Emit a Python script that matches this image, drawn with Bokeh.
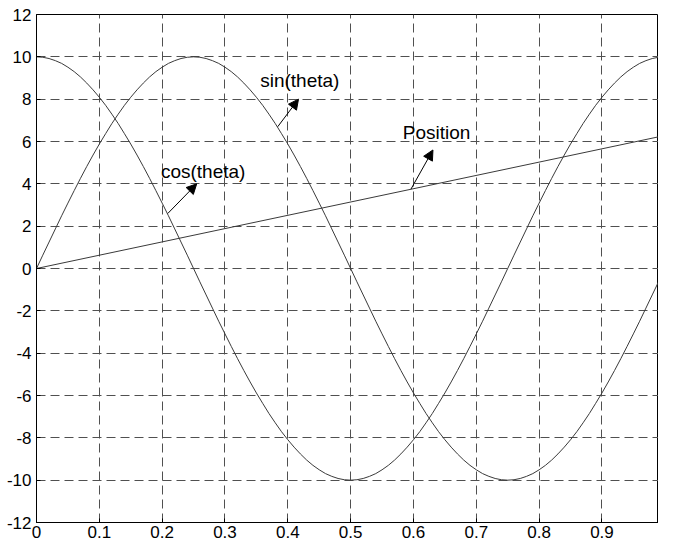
import numpy as np
from bokeh.plotting import figure
from bokeh.models import Arrow, NormalHead, FixedTicker, Range1d
from bokeh.core.properties import value
from bokeh.embed import file_html
from bokeh.resources import INLINE

# ---- data ----
t = np.round(np.arange(100) * 0.01, 2)

sin_vals = [0.00, 0.63, 1.25, 1.87, 2.49, 3.09, 3.68, 4.26, 4.82, 5.36,
            5.88, 6.37, 6.85, 7.29, 7.71, 8.09, 8.44, 8.76, 9.05, 9.30,
            9.51, 9.69, 9.82, 9.92, 9.98, 10.00, 9.98, 9.92, 9.82, 9.69,
            9.51, 9.30, 9.05, 8.76, 8.44, 8.09, 7.71, 7.29, 6.85, 6.37,
            5.88, 5.36, 4.82, 4.26, 3.68, 3.09, 2.49, 1.87, 1.25, 0.63,
            0.00, -0.63, -1.25, -1.87, -2.49, -3.09, -3.68, -4.26, -4.82, -5.36,
            -5.88, -6.37, -6.85, -7.29, -7.71, -8.09, -8.44, -8.76, -9.05, -9.30,
            -9.51, -9.69, -9.82, -9.92, -9.98, -10.00, -9.98, -9.92, -9.82, -9.69,
            -9.51, -9.30, -9.05, -8.76, -8.44, -8.09, -7.71, -7.29, -6.85, -6.37,
            -5.88, -5.36, -4.82, -4.26, -3.68, -3.09, -2.49, -1.87, -1.25, -0.63]

cos_vals = [10.00, 9.98, 9.92, 9.82, 9.69, 9.51, 9.30, 9.05, 8.76, 8.44,
            8.09, 7.71, 7.29, 6.85, 6.37, 5.88, 5.36, 4.82, 4.26, 3.68,
            3.09, 2.49, 1.87, 1.25, 0.63, 0.00, -0.63, -1.25, -1.87, -2.49,
            -3.09, -3.68, -4.26, -4.82, -5.36, -5.88, -6.37, -6.85, -7.29, -7.71,
            -8.09, -8.44, -8.76, -9.05, -9.30, -9.51, -9.69, -9.82, -9.92, -9.98,
            -10.00, -9.98, -9.92, -9.82, -9.69, -9.51, -9.30, -9.05, -8.76, -8.44,
            -8.09, -7.71, -7.29, -6.85, -6.37, -5.88, -5.36, -4.82, -4.26, -3.68,
            -3.09, -2.49, -1.87, -1.25, -0.63, 0.00, 0.63, 1.25, 1.87, 2.49,
            3.09, 3.68, 4.26, 4.82, 5.36, 5.88, 6.37, 6.85, 7.29, 7.71,
            8.09, 8.44, 8.76, 9.05, 9.30, 9.51, 9.69, 9.82, 9.92, 9.98]

pos_x = [0.0, 0.99]
pos_y = [0.0, 6.22]

xticks = [0, 0.1, 0.2, 0.3, 0.4, 0.5, 0.6, 0.7, 0.8, 0.9]
xtick_labels = ["0", "0.1", "0.2", "0.3", "0.4", "0.5", "0.6", "0.7", "0.8", "0.9"]
yticks = [-12, -10, -8, -6, -4, -2, 0, 2, 4, 6, 8, 10, 12]
ytick_labels = ["-12", "-10", "-8", "-6", "-4", "-2", "0", "2", "4", "6", "8", "10", "12"]

labels = ["cos(theta)", "sin(theta)", "Position"]

FONT = "Liberation Sans"

p = figure(width=658, height=540, output_backend="svg", toolbar_location=None,
           x_range=Range1d(0, 0.99), y_range=Range1d(-12, 12),
           min_border_left=36, min_border_right=0, min_border_top=14,
           min_border_bottom=0)

p.background_fill_color = "white"
p.outline_line_color = "black"
p.outline_line_width = 1

p.xaxis.ticker = FixedTicker(ticks=xticks)
p.xaxis.major_label_overrides = {tk: lb for tk, lb in zip(xticks, xtick_labels)}
p.yaxis.ticker = FixedTicker(ticks=yticks)
p.yaxis.major_label_overrides = {tk: lb for tk, lb in zip(yticks, ytick_labels)}

for ax in p.axis:
    ax.axis_line_color = "black"
    ax.major_tick_line_color = "black"
    ax.major_tick_in = 4
    ax.major_tick_out = 0
    ax.minor_tick_line_color = None
    ax.major_label_text_font = FONT
    ax.major_label_text_font_size = "17px"
    ax.major_label_text_color = "black"
p.xaxis.major_label_standoff = 3
p.yaxis.major_label_standoff = 5

p.grid.grid_line_color = "#505050"
p.grid.grid_line_dash = "9 5"
p.grid.grid_line_width = 1

line_color = "#3a3a3a"
p.line(t, cos_vals, line_color=line_color, line_width=1)
p.line(t, sin_vals, line_color=line_color, line_width=1)
p.line(pos_x, pos_y, line_color=line_color, line_width=1)

# annotations
p.text(x=[0.198, 0.356, 0.583], y=[4.58, 8.86, 6.41], text=labels,
       text_font=value(FONT), text_font_size="19px",
       text_baseline="alphabetic", text_align="left", text_color="black")

arrows = [((0.209, 2.6), (0.255, 4.0)),
          ((0.384, 6.7), (0.417, 8.0)),
          ((0.596, 3.75), (0.631, 5.6))]
for (xs, ys), (xe, ye) in arrows:
    p.add_layout(Arrow(end=NormalHead(size=10, fill_color="black", line_color="black"),
                       x_start=xs, y_start=ys, x_end=xe, y_end=ye,
                       line_color="black", line_width=1))

open("out.html", "w").write(file_html(p, INLINE))
